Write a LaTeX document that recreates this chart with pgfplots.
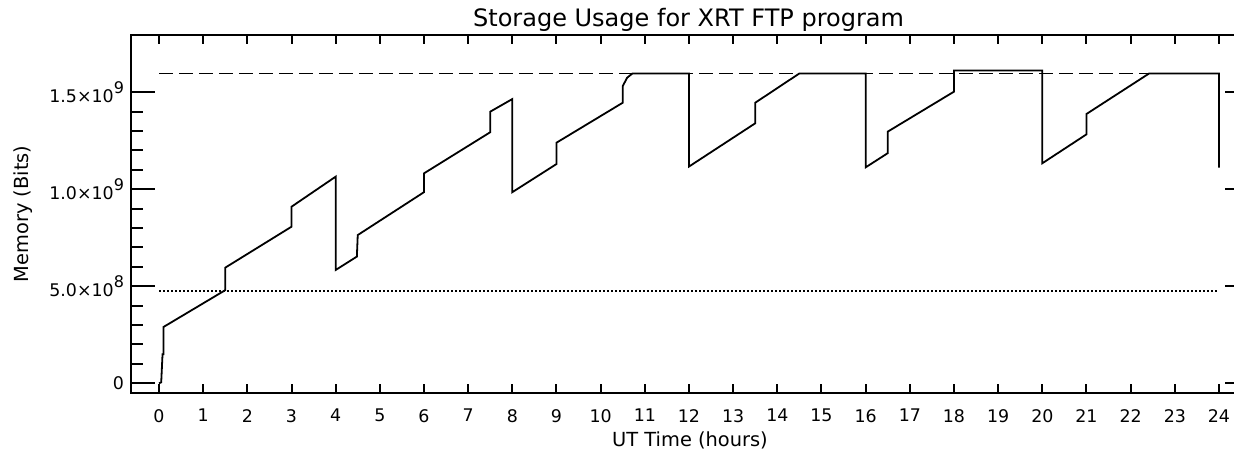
\documentclass[border=0pt]{standalone}
\usepackage{fontspec}
\setmainfont{DejaVu Sans}
\usepackage{pgfplots}
\pgfplotsset{compat=1.18}
\newcommand\sexp[1]{\raisebox{0.5em}{\fontsize{8}{8}\selectfont #1}}
\begin{document}
\begin{tikzpicture}
\begin{axis}[
  scale only axis, width=559pt, height=179pt,
  at={(0,0)}, anchor=south west,
  xmin=-0.634, xmax=24.68, ymin=-0.05, ymax=1.795,
  xtick={0,1,...,24},
  ytick={0,0.5,1,1.5},
  yticklabels={0,{5.0×10\sexp{8}},{1.0×10\sexp{9}},{1.5×10\sexp{9}}},
  scaled y ticks=false,
  minor y tick num=4,
  axis line style={line width=1pt},
  every tick/.style={black, line width=1pt},
  xtick style={/pgfplots/major tick length=4.5pt},
  ytick style={/pgfplots/major tick length=12pt, /pgfplots/minor tick length=6pt},
  tick label style={font=\fontsize{8.7}{10}\selectfont, /pgf/number format/assume math mode=true},
  xticklabel style={yshift=-4.6pt},
  every axis title shift=0pt,
  title={Storage Usage for XRT FTP program},
  title style={font=\fontsize{12}{14}\selectfont, at={(axis description cs:0.4987,1.0251)}, anchor=base},
  xlabel={UT Time (hours)},
  xlabel style={font=\fontsize{9.7}{11}\selectfont, at={(axis description cs:0.5,-0.15)}, anchor=base},
  ylabel={Memory (Bits)},
  ylabel style={font=\fontsize{9.7}{11}\selectfont, at={(axis description cs:-0.0921,0.5)}, anchor=base},
]
\addplot[black, line width=0.9pt, dash pattern=on 7pt off 3pt] coordinates {(0,1.597) (24,1.597)};
\addplot[black, line width=0.7pt, dash pattern=on 1pt off 1pt] coordinates {(0,0.476) (24,0.476)};
\addplot[black, line width=0.9pt] table {
x y
0 0
0.05 0.005
0.08 0.15
0.1 0.15
0.1 0.29
1.5 0.48
1.5 0.596
3 0.807
3 0.91
4 1.065
4 0.584
4.48 0.653
4.5 0.764
6 0.985
6 1.082
7.5 1.294
7.5 1.40
8 1.465
8 0.985
9 1.13
9 1.24
10.5 1.446
10.5 1.532
10.6 1.575
10.72 1.597
12 1.597
12 1.117
13.5 1.34
13.5 1.446
14.5 1.597
16 1.597
16 1.113
16.5 1.186
16.5 1.297
18 1.503
18 1.612
20 1.612
20 1.134
21 1.283
21 1.388
22.42 1.597
24 1.597
24 1.111
};
\end{axis}
\pgfresetboundingbox
\useasboundingbox (-65.5pt,-29pt) rectangle (551.5pt,196.5pt);
\end{tikzpicture}
\end{document}
